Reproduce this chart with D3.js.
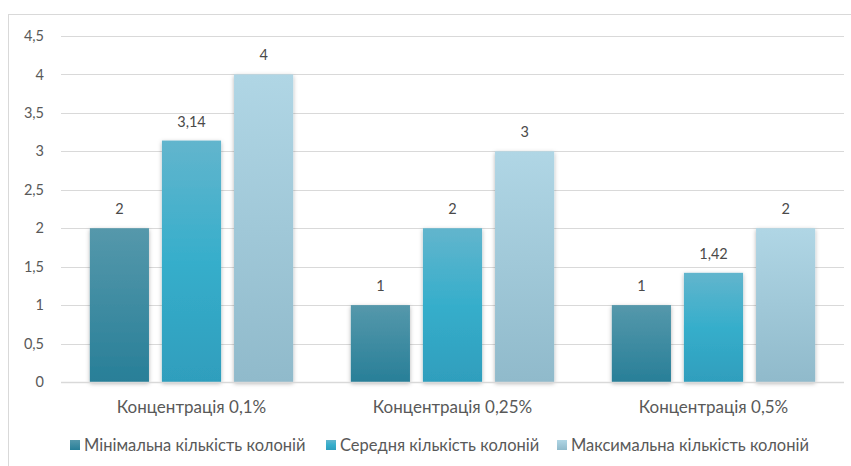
<!DOCTYPE html>
<html>
<head>
<meta charset="utf-8">
<script src="https://cdn.jsdelivr.net/npm/d3@7"></script>
<style>
  body { margin: 0; background: #fff; }
  svg { display: block; font-family: Lato, "Open Sans", sans-serif; }
</style>
</head>
<body>
<svg id="chart" width="851" height="466"></svg>
<script>
// Data
var categories = ["Концентрація 0,1%", "Концентрація 0,25%", "Концентрація 0,5%"];
var seriesNames = ["Мінімальна кількість колоній", "Середня кількість колоній", "Максимальна кількість колоній"];
var minValues = [2, 1, 1];
var meanValues = [3.14, 2, 1.42];
var maxValues = [4, 3, 2];
var yTicks = [0, 0.5, 1, 1.5, 2, 2.5, 3, 3.5, 4, 4.5];

var seriesValues = [minValues, meanValues, maxValues];

const width = 851, height = 466;
const plot = {left: 61, right: 844, top: 36, bottom: 382};

var svg = d3.select("#chart");

// gradients for the three series
var defs = svg.append("defs");
var grads = [
    [["0%", "#5598ab"], ["100%", "#287f98"]],
    [["0%", "#62b5cd"], ["50%", "#36aecb"], ["100%", "#2f9ebd"]],
    [["0%", "#b0d6e5"], ["100%", "#90bacb"]]
];
grads.forEach(function(stops, i) {
    var g = defs.append("linearGradient")
        .attr("id", "grad" + i)
        .attr("x1", 0).attr("y1", 0).attr("x2", 0).attr("y2", 1);
    stops.forEach(function(s) {
        g.append("stop").attr("offset", s[0]).attr("stop-color", s[1]);
    });
});

var shadow = defs.append("filter").attr("id", "shadow")
    .attr("x", "-20%").attr("y", "-10%").attr("width", "140%").attr("height", "120%");
shadow.append("feDropShadow")
    .attr("dx", 0).attr("dy", 1.5).attr("stdDeviation", 2)
    .attr("flood-color", "#000").attr("flood-opacity", 0.3);

// outer chart border
svg.append("rect")
    .attr("x", 8.5).attr("y", 14.5)
    .attr("width", 900).attr("height", 500)
    .attr("fill", "none")
    .attr("stroke", "#d9d9d9");

// scales
var x0 = d3.scaleBand()
    .domain(categories)
    .range([plot.left, plot.right]);

var x1 = d3.scaleBand()
    .domain(d3.range(seriesNames.length))
    .range([0, x0.bandwidth()])
    .paddingInner(0.18)
    .paddingOuter(0.4);

var y = d3.scaleLinear()
    .domain([0, 4.5])
    .range([plot.bottom, plot.top]);

var fmt = function(v) { return String(v).replace(".", ","); };

// gridlines
svg.append("g")
    .selectAll("line")
    .data(yTicks).enter()
    .append("line")
    .attr("x1", plot.left).attr("x2", plot.right)
    .attr("y1", function(d) { return Math.round(y(d)) + 0.5; })
    .attr("y2", function(d) { return Math.round(y(d)) + 0.5; })
    .attr("stroke", "#d9d9d9")
    .attr("stroke-width", 1);

// y tick labels
svg.append("g")
    .selectAll("text")
    .data(yTicks).enter()
    .append("text")
    .attr("x", 44)
    .attr("y", function(d) { return y(d); })
    .attr("dy", "0.35em")
    .attr("text-anchor", "end")
    .attr("font-size", 14.5)
    .attr("fill", "#595959")
    .text(fmt);

// bars
var groups = svg.append("g")
    .selectAll("g")
    .data(categories).enter()
    .append("g")
    .attr("transform", function(d) { return "translate(" + x0(d) + ",0)"; });

groups.selectAll("rect")
    .data(function(d, ci) { return seriesValues.map(function(s, si) { return {si: si, v: s[ci]}; }); })
    .enter()
    .append("rect")
    .attr("x", function(d) { return x1(d.si); })
    .attr("y", function(d) { return y(d.v); })
    .attr("width", x1.bandwidth())
    .attr("height", function(d) { return y(0) - y(d.v); })
    .attr("fill", function(d) { return "url(#grad" + d.si + ")"; })
    .attr("filter", "url(#shadow)");

groups.selectAll("text")
    .data(function(d, ci) { return seriesValues.map(function(s, si) { return {si: si, v: s[ci]}; }); })
    .enter()
    .append("text")
    .attr("x", function(d) { return x1(d.si) + x1.bandwidth() / 2; })
    .attr("y", function(d) { return y(d.v) - 14; })
    .attr("text-anchor", "middle")
    .attr("font-size", 14.5)
    .attr("fill", "#4a4a4a")
    .text(function(d) { return fmt(d.v); });

// axis line
svg.append("line")
    .attr("x1", plot.left).attr("x2", plot.right)
    .attr("y1", y(0) + 0.5).attr("y2", y(0) + 0.5)
    .attr("stroke", "#d9d9d9")
    .attr("stroke-width", 1.5);

// category labels
svg.append("g")
    .selectAll("text")
    .data(categories).enter()
    .append("text")
    .attr("x", function(d) { return x0(d) + x0.bandwidth() / 2; })
    .attr("y", 413)
    .attr("text-anchor", "middle")
    .attr("font-size", 17)
    .attr("fill", "#595959")
    .text(function(d) { return d; });

// legend
var legendX = [70, 326, 557];
var legend = svg.append("g")
    .selectAll("g")
    .data(seriesNames).enter()
    .append("g")
    .attr("transform", function(d, i) { return "translate(" + legendX[i] + ",440)"; });

legend.append("rect")
    .attr("width", 10).attr("height", 10)
    .attr("fill", function(d, i) { return "url(#grad" + i + ")"; });

legend.append("text")
    .attr("x", 14)
    .attr("y", 5)
    .attr("dy", "0.35em")
    .attr("font-size", 16.5)
    .attr("fill", "#595959")
    .text(function(d) { return d; });
</script>
</body>
</html>
